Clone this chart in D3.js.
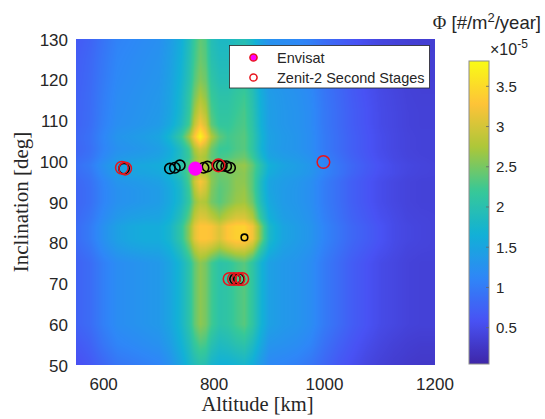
<!DOCTYPE html>
<html><head><meta charset="utf-8">
<script src="https://cdn.jsdelivr.net/npm/d3@7"></script>
<style>
body{margin:0;background:#fff;}
svg{display:block;}
text{font-family:"Liberation Sans",Arial,Helvetica,sans-serif;fill:#262626;}
</style>
</head><body>
<svg id="chart" width="545" height="419"></svg>
<script>
// ---------------- data ----------------
const altitudes = [550,575,600,625,650,675,700,720,740,755,765,775,785,795,810,825,840,855,870,885,900,925,950,975,1000,1025,1050,1075,1100,1125,1150,1175,1200];
const inclinations = [50,55,60,65,70,75,79,81,84,86,90,93,95,97,99,101,103,106,109,112,116,120,125,130];

const r50  = [0.55,0.65,0.8,0.95,1.0,1.05,1.1,1.25,1.5,1.75,1.9,2.0,1.95,1.75,1.65,1.65,1.7,1.75,1.6,1.35,1.15,1.1,1.05,0.95,0.8,0.65,0.55,0.45,0.38,0.33,0.3,0.28,0.28];
const r55  = [0.65,0.75,0.95,1.1,1.15,1.2,1.25,1.4,1.65,1.9,2.15,2.3,2.25,2.0,1.85,1.9,2.0,2.05,1.85,1.55,1.3,1.25,1.2,1.1,0.9,0.75,0.62,0.52,0.44,0.38,0.34,0.32,0.32];
const rMid = [0.75,0.85,1.05,1.2,1.25,1.3,1.35,1.5,1.75,2.05,2.4,2.6,2.5,2.25,2.05,2.1,2.25,2.35,2.1,1.7,1.45,1.35,1.3,1.2,1.0,0.85,0.7,0.6,0.5,0.45,0.4,0.38,0.38];
const r79  = [0.82,0.95,1.2,1.38,1.47,1.52,1.53,1.67,1.98,2.42,2.85,3.05,3.05,2.95,2.75,2.95,3.1,3.1,2.85,2.2,1.7,1.45,1.37,1.27,1.07,0.92,0.77,0.67,0.57,0.49,0.43,0.41,0.4];
const r82  = [0.85,1.0,1.25,1.45,1.55,1.6,1.6,1.75,2.1,2.6,3.1,3.3,3.3,3.25,3.05,3.3,3.4,3.42,3.2,2.5,1.8,1.5,1.4,1.3,1.1,0.95,0.8,0.7,0.6,0.5,0.45,0.42,0.4];
const r86  = [0.82,0.95,1.18,1.35,1.44,1.48,1.5,1.65,1.96,2.4,2.88,3.08,3.05,2.9,2.7,2.9,3.05,3.05,2.8,2.15,1.66,1.43,1.36,1.26,1.06,0.91,0.76,0.66,0.56,0.49,0.43,0.41,0.4];
const r90  = [0.78,0.88,1.1,1.25,1.3,1.35,1.4,1.55,1.8,2.15,2.6,2.8,2.75,2.5,2.35,2.5,2.65,2.7,2.45,1.9,1.55,1.38,1.32,1.22,1.02,0.88,0.72,0.62,0.52,0.46,0.41,0.39,0.39];
const r93  = [0.78,0.88,1.1,1.25,1.3,1.35,1.4,1.55,1.8,2.2,2.8,3.1,2.95,2.55,2.35,2.45,2.6,2.65,2.35,1.85,1.5,1.38,1.32,1.22,1.02,0.88,0.72,0.62,0.52,0.46,0.41,0.39,0.39];
const r95  = [0.8,0.9,1.12,1.3,1.35,1.4,1.45,1.6,1.85,2.3,2.95,3.25,3.05,2.6,2.4,2.45,2.6,2.6,2.35,1.85,1.5,1.4,1.33,1.23,1.03,0.88,0.72,0.62,0.52,0.46,0.41,0.39,0.39];
const r97  = [0.85,0.95,1.2,1.4,1.48,1.5,1.55,1.72,2.0,2.35,2.7,2.9,2.8,2.55,2.45,2.5,2.55,2.6,2.35,1.95,1.6,1.45,1.4,1.3,1.1,0.95,0.78,0.66,0.56,0.5,0.44,0.41,0.4];
const r99  = [0.88,1.0,1.25,1.45,1.52,1.55,1.6,1.78,2.05,2.35,2.7,2.85,2.8,2.6,2.5,2.55,2.6,2.65,2.4,2.0,1.65,1.5,1.42,1.32,1.12,0.95,0.8,0.68,0.58,0.5,0.45,0.42,0.4];
const r101 = [0.82,0.92,1.15,1.32,1.38,1.42,1.48,1.62,1.9,2.2,2.6,2.8,2.7,2.4,2.25,2.3,2.4,2.45,2.2,1.8,1.5,1.4,1.35,1.25,1.05,0.9,0.75,0.64,0.54,0.47,0.42,0.4,0.39];
const r103 = [0.78,0.88,1.1,1.25,1.3,1.35,1.42,1.58,1.88,2.25,2.75,3.0,2.85,2.45,2.2,2.2,2.3,2.35,2.1,1.7,1.45,1.35,1.3,1.2,1.0,0.86,0.72,0.62,0.52,0.46,0.41,0.39,0.39];
const r106 = [0.8,0.9,1.12,1.3,1.36,1.42,1.5,1.75,2.15,2.7,3.3,3.75,3.35,2.8,2.4,2.25,2.3,2.35,2.1,1.72,1.46,1.36,1.3,1.2,1.0,0.86,0.72,0.62,0.52,0.46,0.41,0.39,0.39];
const r109 = [0.76,0.86,1.07,1.22,1.27,1.32,1.38,1.55,1.85,2.25,2.9,3.25,3.0,2.4,2.15,2.15,2.25,2.3,2.05,1.66,1.42,1.33,1.28,1.18,0.98,0.84,0.7,0.6,0.5,0.45,0.4,0.38,0.38];
const r112 = [0.75,0.85,1.05,1.2,1.25,1.3,1.35,1.5,1.78,2.15,2.7,3.0,2.8,2.3,2.1,2.1,2.2,2.28,2.02,1.65,1.42,1.33,1.28,1.18,0.98,0.84,0.7,0.6,0.5,0.45,0.4,0.38,0.38];
const r116 = [0.74,0.84,1.03,1.18,1.23,1.28,1.33,1.48,1.75,2.1,2.5,2.75,2.6,2.2,2.05,2.05,2.15,2.22,1.98,1.62,1.4,1.32,1.26,1.16,0.96,0.82,0.68,0.58,0.49,0.44,0.39,0.37,0.37];
const r120 = [0.72,0.82,1.0,1.15,1.2,1.25,1.3,1.45,1.7,2.0,2.35,2.55,2.45,2.1,1.95,1.95,2.05,2.1,1.9,1.55,1.35,1.28,1.22,1.12,0.93,0.8,0.66,0.56,0.47,0.42,0.38,0.36,0.36];
const r125 = [0.7,0.8,0.97,1.12,1.17,1.22,1.27,1.42,1.65,1.95,2.25,2.45,2.35,2.0,1.88,1.88,1.98,2.02,1.82,1.5,1.3,1.24,1.18,1.08,0.9,0.77,0.64,0.54,0.46,0.41,0.37,0.35,0.35];
const r130 = [0.66,0.76,0.93,1.08,1.13,1.18,1.23,1.38,1.6,1.9,2.2,2.4,2.3,1.95,1.82,1.82,1.9,1.95,1.75,1.45,1.25,1.2,1.14,1.04,0.86,0.74,0.62,0.52,0.44,0.4,0.36,0.34,0.34];

const fluxRows = [r50,r55,rMid,rMid,rMid,rMid,r79,r82,r82,r86,r90,r93,r95,r97,r99,r101,r103,r106,r109,r112,r116,r120,r125,r130];

const xTicks = [600,800,1000,1200];
const yTicks = [50,60,70,80,90,100,110,120,130];
const cbTicks = [0.5,1,1.5,2,2.5,3,3.5];
const cbTickLabels = ["0.5","1","1.5","2","2.5","3","3.5"];
const cbDomain = [0.048, 3.815];

// objects (altitude km, inclination deg)
const envisatAlt = [766];
const envisatInc = [98.2];
const zenitAlt = [633, 639, 808, 998, 828, 836, 844, 851];
const zenitInc = [98.4, 98.2, 99.0, 99.8, 71.1, 71.1, 71.1, 71.1];
const otherAlt = [637, 720, 729, 738, 781, 788, 808, 814, 822, 829, 838, 845];
const otherInc = [98.2, 98.2, 98.4, 99.0, 98.4, 98.7, 98.9, 98.9, 98.8, 98.4, 71.1, 71.1];
const otherSmallAlt = [855];
const otherSmallInc = [81.3];

// ---------------- layout ----------------
const svg = d3.select("#chart");
const m = {l:76, r:435, t:39, b:365};
const x = d3.scaleLinear().domain([550,1200]).range([m.l, m.r]);
const y = d3.scaleLinear().domain([50,130]).range([m.b, m.t]);

const parula = ["#3e26a8","#4852f4","#2e87f7","#12b1d6","#37c897","#abc739","#fec338","#f9fb15"];
const color = d3.scaleLinear()
  .domain(parula.map((_,i)=>cbDomain[0] + i/(parula.length-1)*(cbDomain[1]-cbDomain[0])))
  .range(parula).clamp(true);

const LUT = d3.range(512).map(i=>{
  const c = d3.rgb(color(cbDomain[0] + i/511*(cbDomain[1]-cbDomain[0])));
  return [c.r,c.g,c.b];
});
function locate(arr, v){
  let i = d3.bisectRight(arr, v) - 1;
  i = Math.max(0, Math.min(arr.length-2, i));
  let f = (v - arr[i])/(arr[i+1]-arr[i]);
  f = Math.max(0, Math.min(1, f));
  return [i,f];
}

// heatmap with interpolated shading
const pw = m.r - m.l, ph = m.b - m.t;
const cv = document.createElement("canvas");
cv.width = pw; cv.height = ph;
const ctx = cv.getContext("2d");
const img = ctx.createImageData(pw, ph);
const colLoc = d3.range(pw).map(i=>locate(altitudes, x.invert(m.l + i + 0.5)));
for (let j=0;j<ph;j++){
  const [ri, fy] = locate(inclinations, y.invert(m.t + j + 0.5));
  const R0 = fluxRows[ri], R1 = fluxRows[ri+1];
  for (let i=0;i<pw;i++){
    const [ci, fx] = colLoc[i];
    const a = R0[ci]*(1-fx) + R0[ci+1]*fx;
    const b = R1[ci]*(1-fx) + R1[ci+1]*fx;
    const v = a*(1-fy) + b*fy;
    let t = (v - cbDomain[0])/(cbDomain[1]-cbDomain[0]);
    t = Math.max(0, Math.min(1, t));
    const c = LUT[Math.round(t*511)];
    const k = (j*pw + i)*4;
    img.data[k]=c[0]; img.data[k+1]=c[1]; img.data[k+2]=c[2]; img.data[k+3]=255;
  }
}
ctx.putImageData(img,0,0);
svg.append("image")
  .attr("x", m.l).attr("y", m.t).attr("width", pw).attr("height", ph)
  .attr("preserveAspectRatio","none")
  .attr("href", cv.toDataURL());

// markers
const gm = svg.append("g");
gm.selectAll("circle.oth").data(d3.range(otherAlt.length)).join("circle")
  .attr("class","oth")
  .attr("cx", i=>x(otherAlt[i])).attr("cy", i=>y(otherInc[i])).attr("r", 5.2)
  .attr("fill","none").attr("stroke","#000").attr("stroke-width",1.6);
gm.selectAll("circle.oths").data(d3.range(otherSmallAlt.length)).join("circle")
  .attr("class","oths")
  .attr("cx", i=>x(otherSmallAlt[i])).attr("cy", i=>y(otherSmallInc[i])).attr("r", 3.3)
  .attr("fill","none").attr("stroke","#000").attr("stroke-width",1.6);
gm.selectAll("circle.zen").data(d3.range(zenitAlt.length)).join("circle")
  .attr("class","zen")
  .attr("cx", i=>x(zenitAlt[i])).attr("cy", i=>y(zenitInc[i])).attr("r", 6.3)
  .attr("fill","none").attr("stroke","#e8141c").attr("stroke-width",1.5);
gm.selectAll("circle.env").data(d3.range(envisatAlt.length)).join("circle")
  .attr("class","env")
  .attr("cx", i=>x(envisatAlt[i])).attr("cy", i=>y(envisatInc[i])).attr("r", 6.8)
  .attr("fill","#ff00ff").attr("stroke","#ff00ff").attr("stroke-width",0.5);

// axes tick labels
svg.append("g").selectAll("text").data(xTicks).join("text")
  .attr("x", d=>x(d)).attr("y", 390).attr("text-anchor","middle")
  .style("font-size","17px").text(d=>d);
svg.append("g").selectAll("text").data(yTicks).join("text")
  .attr("x", 68).attr("y", d=>y(d)+6.5).attr("text-anchor","end")
  .style("font-size","17px").text(d=>d);

// axis titles (LaTeX-like serif)
svg.append("text").attr("x", (m.l+m.r)/2 + 2).attr("y", 411).attr("text-anchor","middle")
  .style("font-family","'Liberation Serif','Times New Roman',serif").style("font-size","20.5px")
  .text("Altitude [km]");
svg.append("text").attr("transform", `translate(28,${(m.t+m.b)/2}) rotate(-90)`).attr("text-anchor","middle")
  .style("font-family","'Liberation Serif','Times New Roman',serif").style("font-size","21px")
  .text("Inclination [deg]");

// legend
const lg = svg.append("g");
lg.append("rect").attr("x",229.5).attr("y",45.5).attr("width",200).attr("height",42.5)
  .attr("fill","#fff").attr("stroke","#262626").attr("stroke-width",0.8);
lg.append("circle").attr("cx",253.5).attr("cy",57.5).attr("r",3.6)
  .attr("fill","#ff00ff").attr("stroke","#e8141c").attr("stroke-width",1.5);
lg.append("circle").attr("cx",253.5).attr("cy",77.5).attr("r",3.6)
  .attr("fill","none").attr("stroke","#e8141c").attr("stroke-width",1.5);
lg.append("text").attr("x",277).attr("y",62.5).style("font-size","14.5px").text("Envisat");
lg.append("text").attr("x",277).attr("y",82.5).style("font-size","14.5px").text("Zenit-2 Second Stages");

// colorbar
const cb = {x:469, w:20, t:61, b:364};
const cy = d3.scaleLinear().domain(cbDomain).range([cb.b, cb.t]);
const defs = svg.append("defs");
const grad = defs.append("linearGradient").attr("id","cbg").attr("x1",0).attr("y1",1).attr("x2",0).attr("y2",0);
grad.selectAll("stop").data(d3.range(65)).join("stop")
  .attr("offset", i=>i/64)
  .attr("stop-color", i=>color(cbDomain[0] + i/64*(cbDomain[1]-cbDomain[0])));
svg.append("rect").attr("x",cb.x).attr("y",cb.t).attr("width",cb.w).attr("height",cb.b-cb.t)
  .attr("fill","url(#cbg)").attr("stroke","#8c8c8c").attr("stroke-width",1);
const cbt = svg.append("g");
cbt.selectAll("line").data(cbTicks).join("line")
  .attr("x1",cb.x+cb.w-3).attr("x2",cb.x+cb.w).attr("y1",d=>cy(d)).attr("y2",d=>cy(d))
  .attr("stroke","#666").attr("stroke-width",0.8);
cbt.selectAll("text").data(cbTicks).join("text")
  .attr("x",496).attr("y",d=>cy(d)+5.5).style("font-size","15px")
  .text((d,i)=>cbTickLabels[i]);

// colorbar exponent and title
const ex = svg.append("text").attr("x",490).attr("y",55).style("font-size","16px");
ex.append("tspan").text("\u00d710");
ex.append("tspan").attr("dy",-7).style("font-size","12px").text("-5");

const tt = svg.append("text").attr("x",541).attr("y",29).attr("text-anchor","end").style("font-size","18.5px");
tt.append("tspan").style("font-family","'Liberation Serif',serif").text("\u03a6");
tt.append("tspan").text(" [#/m");
tt.append("tspan").attr("dy",-7).style("font-size","13px").text("2");
tt.append("tspan").attr("dy",7).text("/year]");
</script>
</body></html>
